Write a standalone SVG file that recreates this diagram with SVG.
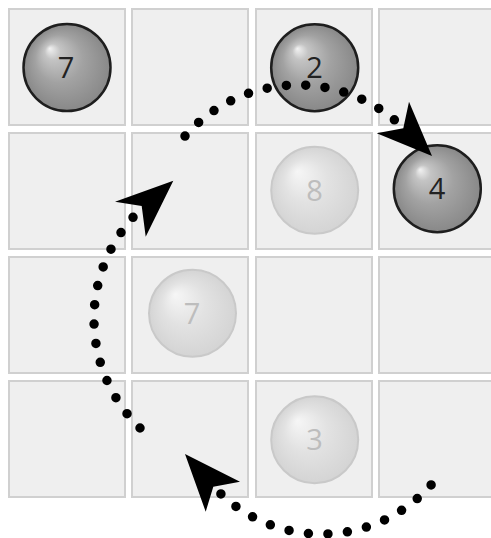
<svg xmlns="http://www.w3.org/2000/svg" width="491" height="538" viewBox="0 0 491 538">
<defs>
<radialGradient id="gDark" cx="0.5" cy="0.5" r="0.5" fx="0.3" fy="0.28">
<stop offset="0" stop-color="#f2f2f2"/>
<stop offset="0.18" stop-color="#c4c4c4"/>
<stop offset="0.55" stop-color="#a2a2a2"/>
<stop offset="1" stop-color="#888888"/>
</radialGradient>
<radialGradient id="gLight" cx="0.5" cy="0.5" r="0.5" fx="0.3" fy="0.28">
<stop offset="0" stop-color="#f6f6f6"/>
<stop offset="0.5" stop-color="#e2e2e2"/>
<stop offset="1" stop-color="#d4d4d4"/>
</radialGradient>
</defs>
<style>
.cell{fill:#efefef;stroke:#d0d0d0;stroke-width:2}
.dark circle{fill:url(#gDark);stroke:#1e1e1e;stroke-width:2.5}
.dark text{fill:#222}
.light circle{fill:url(#gLight);stroke:#c9c9c9;stroke-width:2}
.light text{fill:#bdbdbd}
text{font-family:"Open Sans","DejaVu Sans",sans-serif;font-size:29px;text-anchor:middle}
.dots{fill:none;stroke:#000;stroke-width:9.5;stroke-linecap:round}
.head{fill:#000}
</style>
<rect width="491" height="538" fill="#ffffff"/>
<g id="grid">
<rect class="cell" x="9" y="9" width="116" height="116"/>
<rect class="cell" x="132" y="9" width="116" height="116"/>
<rect class="cell" x="256" y="9" width="116" height="116"/>
<rect class="cell" x="379" y="9" width="116" height="116"/>
<rect class="cell" x="9" y="133" width="116" height="116"/>
<rect class="cell" x="132" y="133" width="116" height="116"/>
<rect class="cell" x="256" y="133" width="116" height="116"/>
<rect class="cell" x="379" y="133" width="116" height="116"/>
<rect class="cell" x="9" y="257" width="116" height="116"/>
<rect class="cell" x="132" y="257" width="116" height="116"/>
<rect class="cell" x="256" y="257" width="116" height="116"/>
<rect class="cell" x="379" y="257" width="116" height="116"/>
<rect class="cell" x="9" y="381" width="116" height="116"/>
<rect class="cell" x="132" y="381" width="116" height="116"/>
<rect class="cell" x="256" y="381" width="116" height="116"/>
<rect class="cell" x="379" y="381" width="116" height="116"/>
</g>
<g id="ball-7" class="dark">
<circle cx="67" cy="67.5" r="43.5"/>
<text x="66" y="78">7</text>
</g>
<g id="ball-2" class="dark">
<circle cx="314.7" cy="67.7" r="43.5"/>
<text x="314.5" y="78">2</text>
</g>
<g id="ball-4" class="dark">
<circle cx="437.3" cy="188.7" r="43.5"/>
<text x="437" y="199">4</text>
</g>
<g id="ghost-8" class="light">
<circle cx="314.7" cy="190.3" r="43.5"/>
<text x="314.5" y="200.5">8</text>
</g>
<g id="ghost-7" class="light">
<circle cx="192.5" cy="313.3" r="43.5"/>
<text x="192" y="323.5">7</text>
</g>
<g id="ghost-3" class="light">
<circle cx="314.7" cy="439.7" r="43.5"/>
<text x="314.5" y="450">3</text>
</g>
<g id="connectors">
<path class="dots" d="M 431.1 484.9 A 146.4 146.4 0 0 1 219.0 492.1" stroke-dasharray="0 19.55"/>
<polygon class="head" points="185,454 240,481.7 213.3,486.7 205.7,511.7"/>
<path class="dots" d="M 140.0 428.0 A 152 152 0 0 1 134.5 215.7" stroke-dasharray="0 19.4"/>
<polygon class="head" points="173.3,180.7 115,201.7 141.7,206 145.7,236.7"/>
<path class="dots" d="M 185.0 136.1 A 150.4 150.4 0 0 1 395.7 121.0" stroke-dasharray="0 19.36"/>
<polygon class="head" points="432,156 409,101.7 403.3,128.3 376.7,133.3"/>
</g>
</svg>
